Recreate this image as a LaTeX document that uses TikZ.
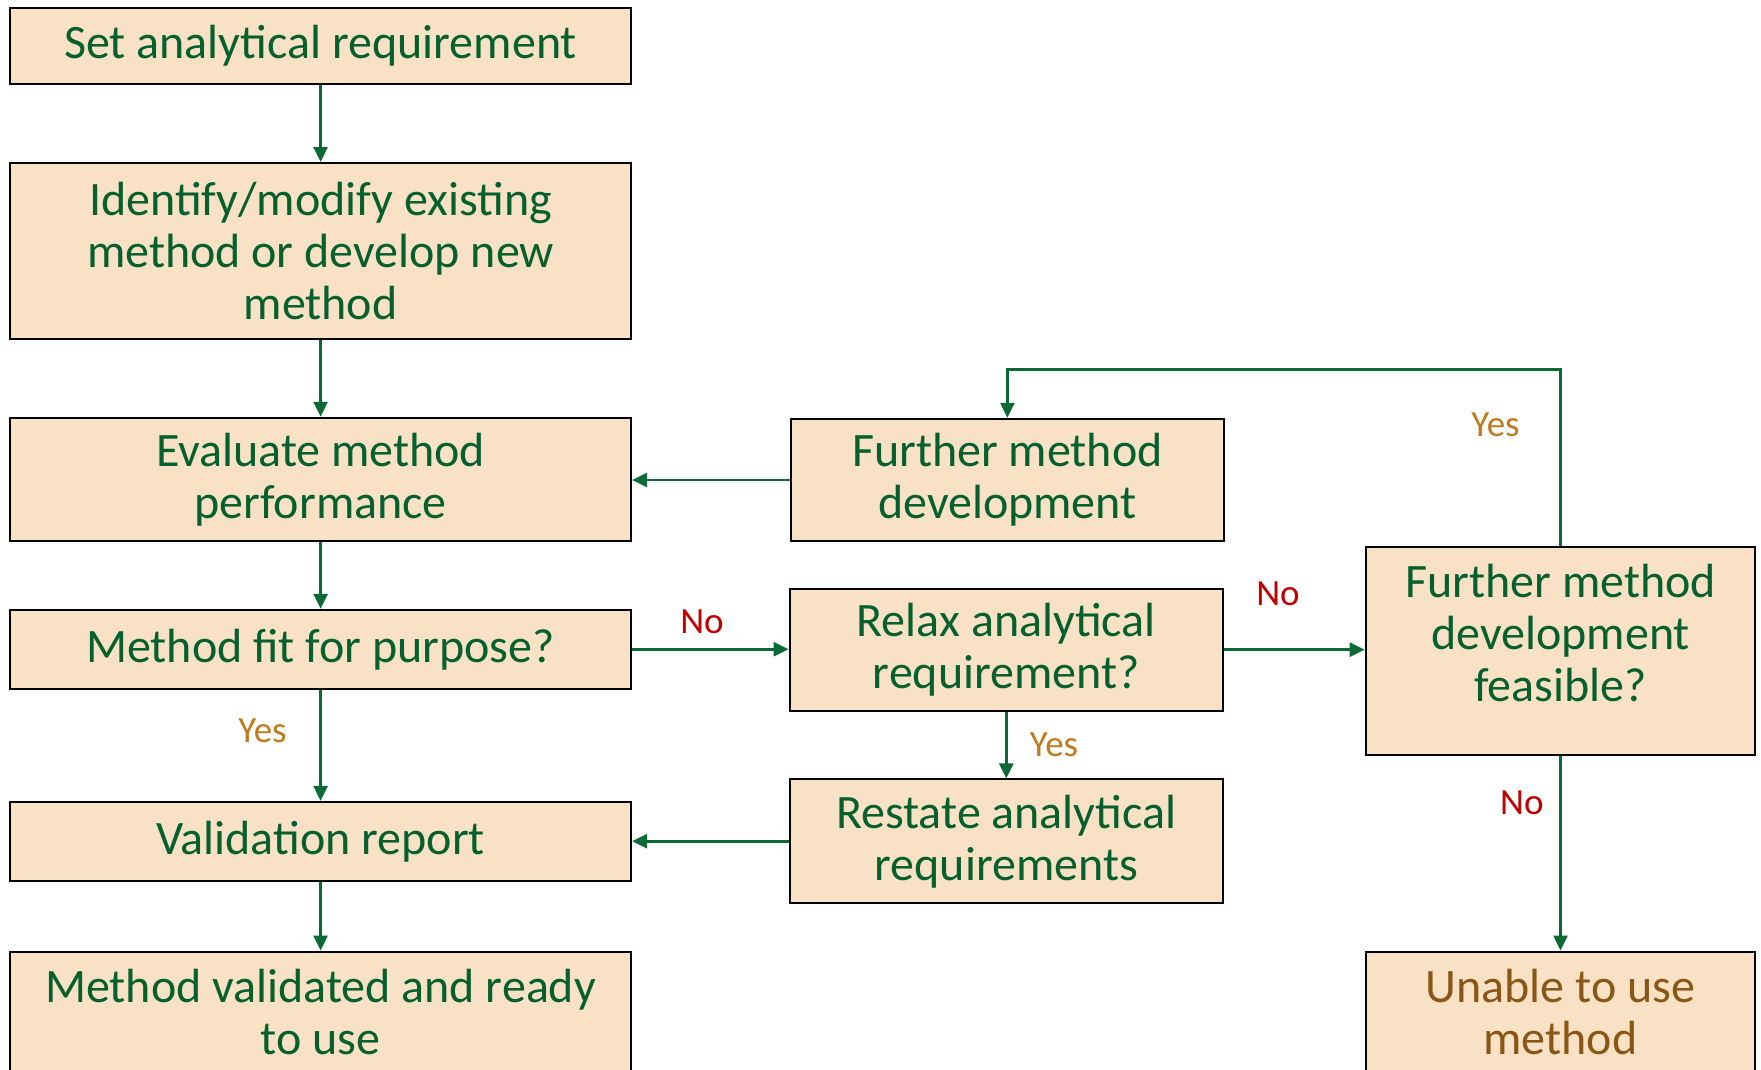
\documentclass[tikz,border=0pt]{standalone}
\usepackage{fontspec}
\setmainfont{Carlito}
\usetikzlibrary{arrows.meta}
\definecolor{boxfill}{HTML}{F8E1C5}
\definecolor{txtgreen}{HTML}{05602D}
\definecolor{linegreen}{HTML}{0A6A35}
\definecolor{yesbrown}{HTML}{C07A1E}
\definecolor{nored}{HTML}{C00000}
\definecolor{endbrown}{HTML}{8A5615}
\tikzset{
  stepbox/.style={draw=black, line width=2pt, fill=boxfill, inner sep=0pt,
    align=center, text=txtgreen, font=\fontsize{48}{52}\selectfont},
  steptext/.style={inner sep=0pt, align=center, text=txtgreen,
    font=\fontsize{48}{52}\selectfont},
  arr/.style={draw=linegreen, line width=2.6pt,
    -{Triangle[length=15pt,width=14pt]}},
  yeslab/.style={text=yesbrown, font=\fontsize{37}{40}\selectfont, inner sep=0pt},
  nolab/.style={text=nored, font=\fontsize{37}{40}\selectfont, inner sep=0pt},
}
\begin{document}
\begin{tikzpicture}[x=1pt,y=-1pt]
\useasboundingbox (0,0) rectangle (1761,1069);
\clip (0,0) rectangle (1761,1069);

% left column
\node[stepbox, minimum width=621pt, minimum height=76pt] (B1) at (320.6,46)
  {Set analytical requirement};
\node[stepbox, minimum width=621pt, minimum height=176pt] (B2) at (320.6,251)
  {Identify/modify existing\\method or develop new\\method};
\node[stepbox, minimum width=621pt, minimum height=123.5pt] (B3) at (320.6,479.5)
  {Evaluate method\\performance};
\node[stepbox, minimum width=621pt, minimum height=78.7pt] (B4) at (320.6,649.2)
  {Method fit for purpose?};
\node[stepbox, minimum width=621pt, minimum height=78.6pt] (B5) at (320.6,841.2)
  {Validation report};
\node[stepbox, minimum width=621pt, minimum height=120pt] (B6) at (320.6,1011.5)
  {Method validated and ready\\to use};

% middle column
\node[stepbox, minimum width=433.5pt, minimum height=122.4pt] (R1) at (1007.4,480)
  {Further method\\development};
\node[stepbox, minimum width=433.5pt, minimum height=122.4pt] (R2) at (1006.3,649.7)
  {Relax analytical\\requirement?};
\node[stepbox, minimum width=433.5pt, minimum height=123.6pt] (R3) at (1006.3,841.2)
  {Restate analytical\\requirements};

% right column: the feasibility box carries its text a little above centre
\node[stepbox, minimum width=389.7pt, minimum height=207.7pt] (F1) at (1560.5,650.8) {};
\node[steptext] (F1t) at ([yshift=18pt]F1.center)
  {Further method\\development\\feasible?};
\node[stepbox, minimum width=389.7pt, minimum height=120pt, text=endbrown] (F2) at (1560.5,1011.5)
  {Unable to use\\method};

% connectors
\draw[arr] (B1) -- (B2);
\draw[arr] (B2) -- (B3);
\draw[arr] (B3) -- (B4);
\draw[arr] (B4) -- (B5);
\draw[arr] (B5) -- (B6);
\draw[arr] (R1.west) -- (R1.west -| B3.east);
\draw[arr] (B4.east) -- (B4.east -| R2.west);
\draw[arr] (R2.east) -- (R2.east -| F1.west);
\draw[arr] (R2) -- (R3);
\draw[arr] (R3.west) -- (R3.west -| B5.east);
\coordinate (loop) at (1007.4,369.5);
\draw[arr] (F1.north) |- (loop) -- (R1.north);
\draw[arr] (F1) -- (F2);

% branch labels
\node[yeslab] (yes1) at (262.5,731) {Yes};
\node[nolab] (no1) at (702,622) {No};
\node[nolab] (no2) at (1278,594) {No};
\node[yeslab] (yes2) at (1054,745) {Yes};
\node[yeslab] (yes3) at (1495.5,424.5) {Yes};
\node[nolab] (no3) at (1521.8,803) {No};
\end{tikzpicture}
\end{document}
